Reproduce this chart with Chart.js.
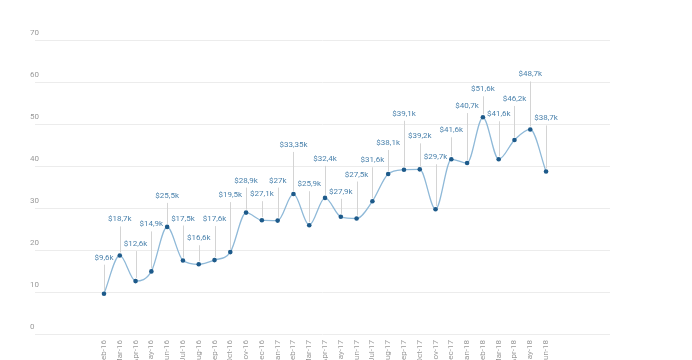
<!DOCTYPE html>
<html>
<head>
<meta charset="utf-8">
<script src="https://cdn.jsdelivr.net/npm/chart.js@4/dist/chart.umd.min.js"></script>
<style>
  html, body { margin: 0; padding: 0; background: #ffffff; }
  #wrap { width: 692px; height: 360px; position: relative; }
</style>
</head>
<body>
<div id="wrap"><canvas id="c" width="692" height="360"></canvas></div>
<script>
// ---- data ----
const months = ['Feb-16','Mar-16','Apr-16','May-16','Jun-16','Jul-16','Aug-16','Sep-16','Oct-16','Nov-16','Dec-16',
                'Jan-17','Feb-17','Mar-17','Apr-17','May-17','Jun-17','Jul-17','Aug-17','Sep-17','Oct-17','Nov-17','Dec-17',
                'Jan-18','Feb-18','Mar-18','Apr-18','May-18','Jun-18'];
const sales = [9.6, 18.7, 12.6, 14.9, 25.5, 17.5, 16.6, 17.6, 19.5, 28.9, 27.1,
               27, 33.35, 25.9, 32.4, 27.9, 27.5, 31.6, 38.1, 39.1, 39.2, 29.7, 41.6,
               40.7, 51.6, 41.6, 46.2, 48.7, 38.7];
const yTicks = [0, 10, 20, 30, 40, 50, 60, 70];

// ---- label styling (pixel lift of each value label above its point) ----
const labelLift = [36, 36, 37, 47, 31, 42, 26, 41, 57, 32, 26,
                   40, 49, 41, 39, 25, 44, 41, 31, 56, 33, 52, 29,
                   57, 28, 45, 41, 55, 53];

function fmt(v) { return '$' + String(v).replace('.', ',') + 'k'; }

const valueLabels = {
  id: 'valueLabels',
  beforeDatasetsDraw(chart) {
    const meta = chart.getDatasetMeta(0);
    const ctx = chart.ctx;
    ctx.save();
    ctx.strokeStyle = '#d4d4d4';
    ctx.lineWidth = 1;
    meta.data.forEach((pt, i) => {
      const x = Math.round(pt.x) + 0.5;
      const ly = pt.y - labelLift[i];
      ctx.beginPath();
      ctx.moveTo(x, ly + 7);
      ctx.lineTo(x, pt.y - 3);
      ctx.stroke();
    });
    ctx.restore();
  },
  afterDatasetsDraw(chart) {
    const meta = chart.getDatasetMeta(0);
    const ctx = chart.ctx;
    ctx.save();
    ctx.font = '8px Roboto, "Liberation Sans", sans-serif';
    ctx.fillStyle = '#4c83ad';
    ctx.textAlign = 'center';
    ctx.textBaseline = 'middle';
    meta.data.forEach((pt, i) => {
      ctx.fillText(fmt(sales[i]), pt.x, pt.y - labelLift[i]);
    });
    ctx.restore();
  }
};

new Chart(document.getElementById('c'), {
  type: 'line',
  data: {
    datasets: [{
      data: sales.map((v, i) => ({ x: i, y: v })),
      borderColor: '#8fb9d8',
      borderWidth: 1.3,
      cubicInterpolationMode: 'monotone',
      pointRadius: 2.3,
      pointBackgroundColor: '#1d5a8a',
      pointBorderColor: '#1d5a8a',
      pointBorderWidth: 0,
      fill: false
    }]
  },
  options: {
    responsive: false,
    animation: false,
    events: [],
    layout: { padding: { left: 35, right: 82, top: 40, bottom: 0 } },
    plugins: { legend: { display: false }, tooltip: { enabled: false } },
    scales: {
      x: {
        type: 'linear',
        min: -4.37,
        max: 32.05,
        afterBuildTicks(scale) { scale.ticks = months.map((m, i) => ({ value: i })); },
        afterFit(scale) { scale.height = 26; },
        grid: { display: false, drawTicks: false },
        border: { display: false },
        ticks: {
          autoSkip: false,
          maxRotation: 90,
          minRotation: 90,
          padding: 6,
          color: '#9a9a9a',
          font: { size: 8, family: 'Roboto, "Liberation Sans", sans-serif' },
          callback: (v) => months[v] ?? ''
        }
      },
      y: {
        min: 0,
        max: 70,
        afterBuildTicks(scale) { scale.ticks = yTicks.map(v => ({ value: v })); },
        afterFit(scale) { scale.width = 0; },
        grid: { color: '#ececec', lineWidth: 1, drawTicks: false },
        border: { display: false },
        ticks: {
          mirror: true,
          padding: -5,
          labelOffset: -7,
          color: '#9a9a9a',
          font: { size: 8, family: 'Roboto, "Liberation Sans", sans-serif' }
        }
      }
    }
  },
  plugins: [valueLabels]
});
</script>
</body>
</html>
